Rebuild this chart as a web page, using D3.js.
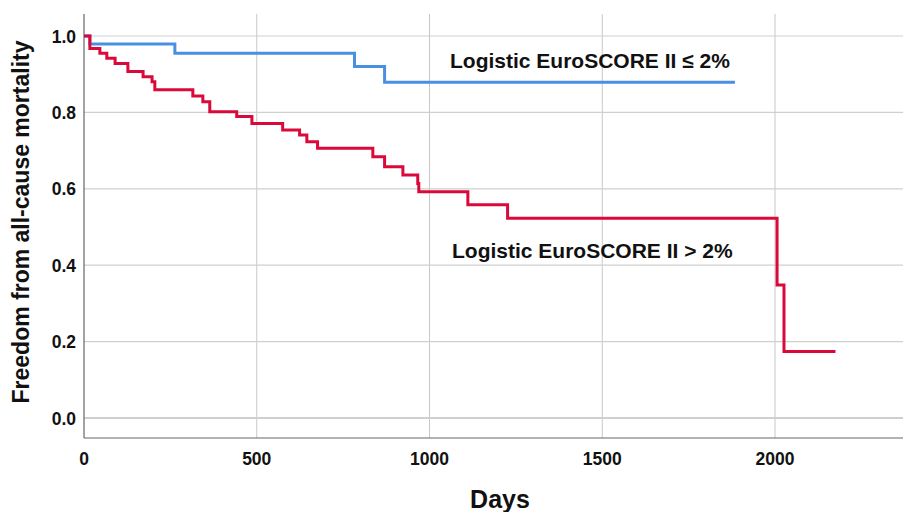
<!DOCTYPE html>
<html>
<head>
<meta charset="utf-8">
<script src="https://cdn.jsdelivr.net/npm/d3@7"></script>
<style>
  body { margin: 0; background: #fff; }
  text { font-family: Arial, "Liberation Sans", sans-serif; font-weight: bold; }
</style>
</head>
<body>
<div id="chart"></div>
<script>
// survival data (days, proportion surviving)
var lowTimes = [0, 17, 263, 783, 870];
var lowSurv = [1.0, 0.979, 0.955, 0.920, 0.879];
var lowEnd = 1884;

var highTimes = [0, 17, 46, 66, 90, 127, 171, 197, 205, 315, 344, 364, 442, 486, 575,
                 624, 645, 676, 836, 870, 923, 966, 969, 1111, 1226, 2006, 2026];
var highSurv = [1.0, 0.967, 0.955, 0.942, 0.928, 0.907, 0.893, 0.880, 0.859, 0.843, 0.828,
                0.802, 0.789, 0.771, 0.754, 0.741, 0.723, 0.706, 0.684, 0.658, 0.636, 0.614,
                0.592, 0.558, 0.523, 0.348, 0.174];
var highEnd = 2175;

var xTicks = [0, 500, 1000, 1500, 2000];
var yTicks = [0, 0.2, 0.4, 0.6, 0.8, 1.0];

const width = 903, height = 512;
const plotLeft = 84, plotRight = 903, plotTop = 14, plotBottom = 438;

var svg = d3.select("#chart").append("svg")
    .attr("width", width)
    .attr("height", height);

var x = d3.scaleLinear().domain([0, 2000]).range([84, 775]);
var y = d3.scaleLinear().domain([0, 1]).range([418, 36]);

// grid lines
svg.selectAll(".vgrid")
    .data(xTicks.slice(1))
    .enter().append("line")
    .attr("x1", d => x(d)).attr("x2", d => x(d))
    .attr("y1", plotTop).attr("y2", plotBottom)
    .style("stroke", "#c8c8c8").style("stroke-width", 1);

svg.selectAll(".hgrid")
    .data(yTicks)
    .enter().append("line")
    .attr("x1", plotLeft).attr("x2", plotRight)
    .attr("y1", d => y(d)).attr("y2", d => y(d))
    .style("stroke", "#cfcfcf").style("stroke-width", d => d === 0 ? 2 : 1.2);

// axes lines
svg.append("line")
    .attr("x1", plotLeft).attr("x2", plotLeft).attr("y1", plotTop).attr("y2", plotBottom)
    .style("stroke", "#666").style("stroke-width", 1.2);
svg.append("line")
    .attr("x1", plotLeft).attr("x2", plotRight).attr("y1", plotBottom).attr("y2", plotBottom)
    .style("stroke", "#666").style("stroke-width", 1.2);

// tick labels
svg.selectAll(".xlab")
    .data(xTicks)
    .enter().append("text")
    .attr("x", d => x(d)).attr("y", 465)
    .attr("text-anchor", "middle")
    .style("font-size", "17.5px").style("fill", "#111")
    .text(d => d);

svg.selectAll(".ylab")
    .data(yTicks)
    .enter().append("text")
    .attr("x", 76).attr("y", d => y(d) + 6.5)
    .attr("text-anchor", "end")
    .style("font-size", "17.5px").style("fill", "#111")
    .text(d => d.toFixed(1));

// axis titles
svg.append("text")
    .attr("x", 500).attr("y", 508)
    .attr("text-anchor", "middle")
    .style("font-size", "25px").style("fill", "#111")
    .text("Days");

svg.append("text")
    .attr("transform", "translate(29,222) rotate(-90)")
    .attr("text-anchor", "middle")
    .style("font-size", "23px").style("fill", "#111")
    .text("Freedom from all-cause mortality");

// survival curves
function steps(times, surv, end) {
    var pts = times.map((t, i) => [t, surv[i]]);
    pts.push([end, surv[surv.length - 1]]);
    return pts;
}

var line = d3.line()
    .x(d => x(d[0]))
    .y(d => y(d[1]))
    .curve(d3.curveStepAfter);

svg.append("path")
    .datum(steps(lowTimes, lowSurv, lowEnd))
    .attr("d", line)
    .style("fill", "none").style("stroke", "#4a90e2").style("stroke-width", 3);

svg.append("path")
    .datum(steps(highTimes, highSurv, highEnd))
    .attr("d", line)
    .style("fill", "none").style("stroke", "#d90a3a").style("stroke-width", 3);

// curve labels
svg.append("text")
    .attr("x", 450).attr("y", 68)
    .style("font-size", "21px").style("fill", "#111")
    .text("Logistic EuroSCORE II \u2264 2%");

svg.append("text")
    .attr("x", 452).attr("y", 258)
    .style("font-size", "21px").style("fill", "#111")
    .text("Logistic EuroSCORE II > 2%");
</script>
</body>
</html>
